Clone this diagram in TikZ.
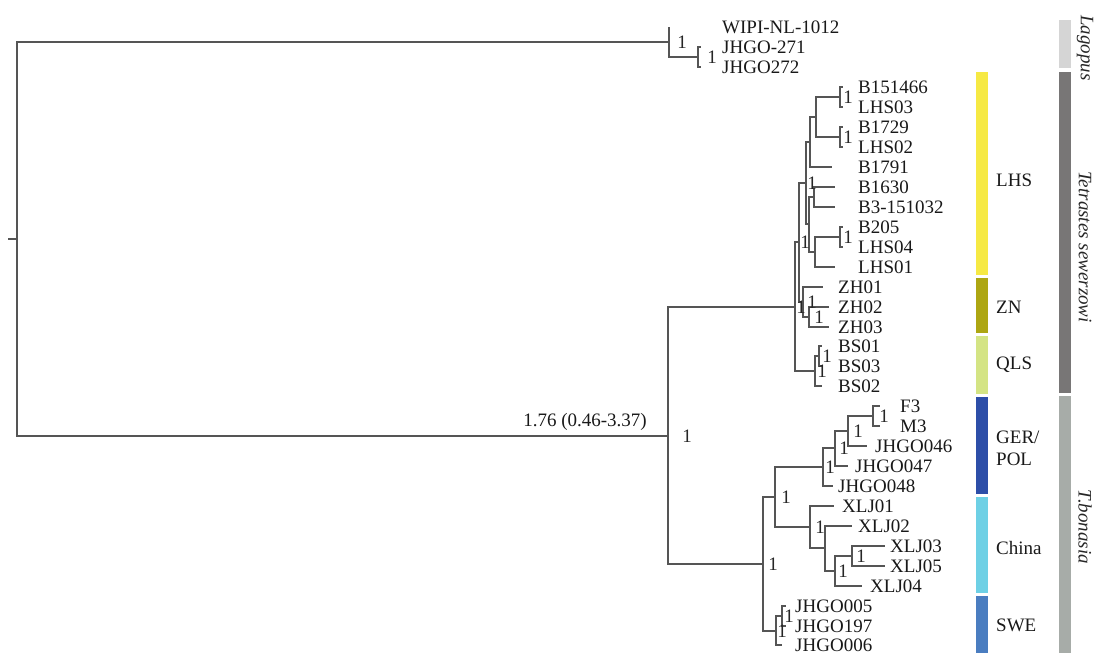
\documentclass[tikz,border=0pt]{standalone}
\usepackage{fontspec}
\setmainfont{Liberation Serif}
\usetikzlibrary{calc,positioning}
\definecolor{treegray}{HTML}{555555}
\definecolor{lhsyellow}{HTML}{F6E944}
\definecolor{znolive}{HTML}{ADA612}
\definecolor{qlsgreen}{HTML}{D4E484}
\definecolor{gerblue}{HTML}{2D4EA8}
\definecolor{chinacyan}{HTML}{6ED0E5}
\definecolor{sweblue}{HTML}{4A7DC0}
\definecolor{lagopusgray}{HTML}{D5D5D5}
\definecolor{tetrastesgray}{HTML}{787676}
\definecolor{bonasiagray}{HTML}{A7ACA8}
\tikzset{
    mybranch/.style={line width=1.3pt,draw=treegray},
    mytip/.style={anchor=west,inner sep=0pt,text height=12.6pt,text depth=0pt,font=\fontsize{19}{21}\selectfont,text=black!90},
    mysupport/.style={inner sep=0pt,text height=12.6pt,text depth=0pt,font=\fontsize{19}{21}\selectfont,text=black!85},
    mycladelab/.style={anchor=west,inner sep=0pt,align=left,font=\fontsize{19}{22}\selectfont,text=black!90},
    mygenus/.style={rotate=-90,inner sep=0pt,font=\itshape\fontsize{19}{21}\selectfont,text=black!85}
}
\begin{document}
\begin{tikzpicture}[x=1pt,y=-1pt]
          \useasboundingbox (0,0) rectangle (1094,653);
          % inner nodes of the tree, at the middle of their vertical line
          \coordinate (stub) at (8,239);
          \coordinate (R0) at (17,239);
          \coordinate (Lag) at (669,42);
          \coordinate (J27) at (698,57);
          \coordinate (Tet) at (668,436);
          \coordinate (S) at (795,307);
          \coordinate (P) at (799,242);
          \coordinate (Q) at (806,183);
          \coordinate (E) at (810,142);
          \coordinate (AB) at (816,117);
          \coordinate (A) at (840,97);
          \coordinate (B) at (840,137);
          \coordinate (R) at (809,224);
          \coordinate (C) at (814,197);
          \coordinate (D) at (815,252);
          \coordinate (F) at (840,237);
          \coordinate (ZH) at (803,302);
          \coordinate (ZH23) at (809,317);
          \coordinate (BS) at (815,371);
          \coordinate (BS13) at (819,356);
          \coordinate (B0) at (763,564);
          \coordinate (GC) at (775,497);
          \coordinate (GER) at (823,467);
          \coordinate (G2) at (835,448);
          \coordinate (G3) at (848,431);
          \coordinate (FM) at (873,416);
          \coordinate (CH) at (810,527);
          \coordinate (C2) at (825,548);
          \coordinate (C3) at (835,571);
          \coordinate (C4) at (852,556);
          \coordinate (SW) at (776,631);
          \coordinate (S2) at (782,616);
          \foreach \t/\x/\y/\tx/\lab in {
              wipi/669/27/722/WIPI-NL-1012, j271/701/47/722/JHGO-271, j272/701/67/722/JHGO272,
              b151466/843/87/858/B151466, lhs03/843/107/858/LHS03, b1729/843/127/858/B1729,
              lhs02/843/147/858/LHS02, b1791/832/167/858/B1791, b1630/835/187/858/B1630,
              b3/835/207/858/B3-151032, b205/843/227/858/B205, lhs04/843/247/858/LHS04,
              lhs01/835/267/858/LHS01, zh01/823/287/838/ZH01, zh02/829/307/838/ZH02,
              zh03/829/327/838/ZH03, bs01/822/346/838/BS01, bs03/822/366/838/BS03,
              bs02/822/386/838/BS02, f3/880/406/900/F3, m3/880/426/900/M3,
              jhgo046/867/446/875/JHGO046, jhgo047/848/466/855/JHGO047, jhgo048/833/486/838/JHGO048,
              xlj01/834/506/842/XLJ01, xlj02/852/526/858/XLJ02, xlj03/885/546/890/XLJ03,
              xlj05/885/566/890/XLJ05, xlj04/862/586/870/XLJ04, jhgo005/786/606/795/JHGO005,
              jhgo197/786/626/795/JHGO197, jhgo006/782/645/795/JHGO006}{
            \coordinate (\t) at (\x,\y);
            \node[mytip] (lab-\t) at (\tx,\y) {\lab};
          }
          \draw[mybranch] (stub) -- (R0);
          \foreach \p/\c in {R0/Lag, R0/Tet, Lag/wipi, Lag/J27, J27/j271, J27/j272,
              Tet/S, Tet/B0, S/P, S/BS, P/Q, P/ZH, Q/E, Q/R, E/AB, E/b1791,
              AB/A, AB/B, A/b151466, A/lhs03, B/b1729, B/lhs02, R/C, R/D,
              C/b1630, C/b3, D/F, D/lhs01, F/b205, F/lhs04,
              ZH/zh01, ZH/ZH23, ZH23/zh02, ZH23/zh03, BS/BS13, BS/bs02, BS13/bs01, BS13/bs03,
              B0/GC, B0/SW, GC/GER, GC/CH, GER/G2, GER/jhgo048, G2/G3, G2/jhgo047,
              G3/FM, G3/jhgo046, FM/f3, FM/m3, CH/xlj01, CH/C2, C2/xlj02, C2/C3,
              C3/C4, C3/xlj04, C4/xlj03, C4/xlj05, SW/S2, SW/jhgo006, S2/jhgo005, S2/jhgo197}{
            \draw[mybranch] (\p) |- (\c);
          }
          \foreach \n/\d in {Lag/13, J27/14, A/8, B/8, Q/6, P/6, S/6, F/8, ZH/9, ZH23/10,
              BS/7, BS13/8, Tet/19, B0/10, GC/11, GER/7, G2/9, G3/10, FM/11,
              CH/10, C3/8, C4/9, SW/6, S2/7}{
            \node[mysupport] (sup-\n) at ([xshift=\d]\n) {1};
          }
          \node[mytip,anchor=east] (age-Tet) at (647,420) {1.76 (0.46-3.37)};
          \foreach \ya/\yb/\col in {72/275/lhsyellow, 278/333/znolive, 336/394/qlsgreen,
              397/494/gerblue, 497/593/chinacyan, 596/653/sweblue}{
            \fill[\col] (976,\ya) rectangle (988,\yb);
          }
          \foreach \ya/\yb/\col in {20/68/lagopusgray, 72/393/tetrastesgray, 396/653/bonasiagray}{
            \fill[\col] (1059,\ya) rectangle (1071,\yb);
          }
          \node[mycladelab] (clade-lhs) at (996,180) {LHS};
          \node[mycladelab] (clade-zn) at (996,307) {ZN};
          \node[mycladelab] (clade-qls) at (996,365) {QLS};
          \node[mycladelab] (clade-ger) at (996,448) {GER/\\POL};
          \node[mycladelab] (clade-china) at (996,548) {China};
          \node[mycladelab] (clade-swe) at (996,625) {SWE};
          \node[mygenus] (genus-lag) at (1085,48) {Lagopus};
          \node[mygenus] (genus-tet) at (1085,247) {Tetrastes sewerzowi};
          \node[mygenus] (genus-bon) at (1085,527) {T.bonasia};
        \end{tikzpicture}
\end{document}
